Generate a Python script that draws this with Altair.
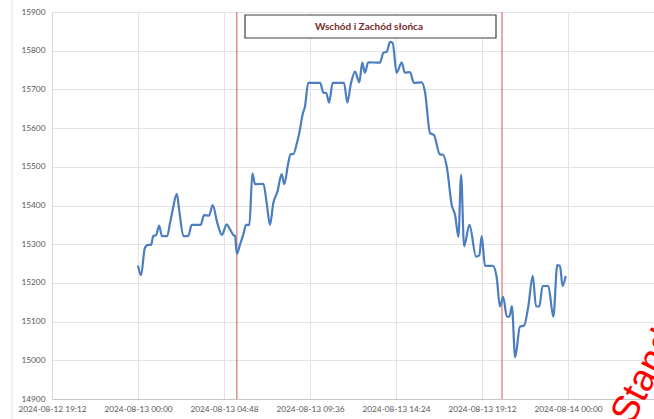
import altair as alt
import pandas as pd

# ---- data ----
times = ["00:00", "00:10", "00:23", "00:34", "00:44", "00:51", "01:00", "01:11", "01:20", "01:38",
         "01:47", "01:56", "02:10", "02:18", "02:32", "02:48", "03:00", "03:30", "03:41", "03:58",
         "04:10", "04:26", "04:41", "04:57", "05:06", "05:19", "05:25", "05:31", "05:42", "05:53",
         "06:02", "06:13", "06:23", "06:32", "07:00", "07:11", "07:22", "07:33", "07:47", "08:01",
         "08:10", "08:23", "08:31", "08:40", "08:52", "09:00", "09:12", "09:19", "09:30", "10:10",
         "10:21", "10:30", "10:40", "10:52", "11:30", "11:41", "11:53", "12:07", "12:21", "12:31",
         "12:40", "12:51", "13:30", "13:42", "13:53", "14:04", "14:13", "14:26", "14:43", "14:54",
         "15:11", "15:24", "15:50", "16:01", "16:18", "16:31", "16:51", "17:02", "17:14", "17:31",
         "17:42", "17:53", "18:02", "18:12", "18:30", "18:52", "19:03", "19:11", "19:22", "19:48",
         "20:01", "20:12", "20:23", "20:35", "20:44", "20:52", "21:03", "21:19", "21:33", "21:47",
         "22:02", "22:13", "22:24", "22:35", "22:54", "23:11", "23:24", "23:33", "23:42", "23:52"]
values = [15245, 15220, 15290, 15298, 15298, 15321, 15323, 15348, 15321, 15321,
          15354, 15388, 15430, 15388, 15321, 15321, 15350, 15350, 15375, 15374,
          15401, 15354, 15324, 15351, 15341, 15324, 15321, 15275, 15300, 15326,
          15350, 15350, 15483, 15455, 15456, 15406, 15350, 15406, 15436, 15481,
          15455, 15509, 15533, 15533, 15561, 15587, 15638, 15655, 15717, 15717,
          15691, 15691, 15666, 15717, 15717, 15666, 15715, 15746, 15718, 15769,
          15743, 15770, 15769, 15795, 15797, 15823, 15820, 15743, 15769, 15743,
          15745, 15717, 15718, 15694, 15587, 15582, 15532, 15531, 15500, 15400,
          15375, 15319, 15479, 15295, 15350, 15268, 15271, 15321, 15244, 15244,
          15216, 15139, 15164, 15113, 15113, 15140, 15008, 15087, 15090, 15139,
          15218, 15139, 15139, 15192, 15192, 15113, 15246, 15244, 15192, 15218]
day = "2024-08-13"
sun_events = ["05:31", "20:19"]
title_text = ["Wschód i Zachód słońca"]
stamp_text = ["Standard"]
y_ticks = [14900, 15000, 15100, 15200, 15300, 15400, 15500, 15600, 15700, 15800, 15900]
x_ticks = [(2024, 8, 12, 19, 12), (2024, 8, 13, 0, 0), (2024, 8, 13, 4, 48),
           (2024, 8, 13, 9, 36), (2024, 8, 13, 14, 24), (2024, 8, 13, 19, 12),
           (2024, 8, 14, 0, 0)]
x_domain = [(2024, 8, 12, 19, 12), (2024, 8, 14, 4, 48)]

def dt(t):
    return alt.DateTime(year=t[0], month=t[1], date=t[2], hours=t[3], minutes=t[4])

df = pd.DataFrame({"time": [f"{day}T{t}" for t in times], "value": values})
ev = pd.DataFrame({"time": [f"{day}T{t}" for t in sun_events]})

W, H = 602, 387
FONT = "Lato"
LABEL_COLOR = "#595959"

x_scale = alt.Scale(domain=[dt(d) for d in x_domain], nice=False)
y_scale = alt.Scale(domain=[14900, 15900], nice=False, zero=False)

x_axis = alt.Axis(values=[dt(t) for t in x_ticks], format="%Y-%m-%d %H:%M", title=None,
                  grid=True, gridColor="#e3e3e3", ticks=False, domainColor="#c6c6c6",
                  labelColor=LABEL_COLOR, labelFont=FONT, labelFontSize=8.3, labelPadding=5,
                  labelOverlap=False, labelFlush=False)
y_axis = alt.Axis(values=y_ticks, title=None, grid=True, gridColor="#e3e3e3", ticks=False,
                  domainColor="#d6d6d6", labelColor=LABEL_COLOR, labelFont=FONT,
                  labelFontSize=8.3, labelPadding=7, format="d")

line = alt.Chart(df).mark_line(color="#4a7ebf", strokeWidth=2.2, interpolate="monotone").encode(
    x=alt.X("time:T", scale=x_scale, axis=x_axis),
    y=alt.Y("value:Q", scale=y_scale, axis=y_axis),
)

rules = alt.Chart(ev).mark_rule(color="#e07070", strokeWidth=1.2).encode(
    x=alt.X("time:T", scale=x_scale)
)

box = alt.Chart(pd.DataFrame({"t": title_text})).mark_rect(
    fill="white", stroke="#3f3f3f", strokeWidth=1.2
).encode(x=alt.value(193), x2=alt.value(444), y=alt.value(3), y2=alt.value(26))

title = alt.Chart(pd.DataFrame({"t": title_text})).mark_text(
    font=FONT, fontSize=10, fontWeight="bold", color="#7a2a2a", align="center", baseline="middle"
).encode(text="t:N", x=alt.value(317), y=alt.value(14.5))

border = alt.Chart(pd.DataFrame({"t": title_text})).mark_rule(
    color="#e4e4e4", strokeWidth=1
).encode(x=alt.value(-40), y=alt.value(-12), y2=alt.value(410))

stamp = alt.Chart(pd.DataFrame({"t": stamp_text})).mark_text(
    font="Liberation Sans", fontSize=38, color="#ff0000", align="left",
    baseline="alphabetic", angle=297
).encode(text="t:N", x=alt.value(580), y=alt.value(414))

chart = alt.layer(border, rules, line, box, title, stamp).properties(
    width=W, height=H,
    autosize=alt.AutoSizeParams(type="none"),
    padding={"left": 52, "top": 12, "right": 0, "bottom": 20},
    background="white",
).configure_view(stroke=None)

chart.save("out.html", embed_options={"renderer": "svg", "actions": False})
